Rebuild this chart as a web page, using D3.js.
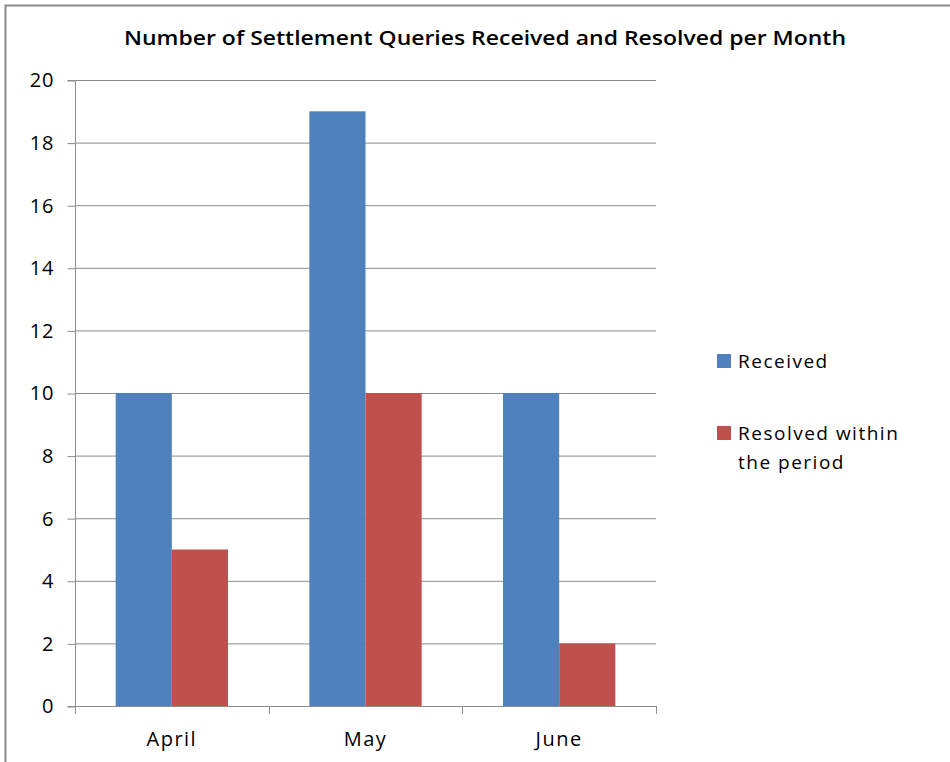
<!DOCTYPE html>
<html>
<head>
<meta charset="utf-8">
<script src="https://cdn.jsdelivr.net/npm/d3@7"></script>
<style>
  body { margin: 0; background: #fff; }
  svg text { font-family: "Open Sans", "DejaVu Sans", sans-serif; fill: #000; }
</style>
</head>
<body>
<div id="chart"></div>
<script>
var months = ["April", "May", "June"];
var received = [10, 19, 10];
var resolved = [5, 10, 2];
var seriesNames = ["Received", "Resolved within the period"];
var yTicks = [0, 2, 4, 6, 8, 10, 12, 14, 16, 18, 20];

var width = 950, height = 762;
var colors = ["#4f81bd", "#c0504d"];

var svg = d3.select("#chart").append("svg")
  .attr("width", width).attr("height", height);

// outer chart border (only top/left visible in the picture)
svg.append("rect")
  .attr("x", 5.5).attr("y", 5.5)
  .attr("width", 960).attr("height", 780)
  .attr("fill", "none").attr("stroke", "#888").attr("stroke-width", 2);

var pLeft = 75, pRight = 656, pTop = 80, pBottom = 706;

var x = d3.scaleBand().domain(months).range([pLeft, pRight]).paddingInner(0).paddingOuter(0);
var y = d3.scaleLinear().domain([0, 20]).range([pBottom, pTop]);

// gridlines
svg.append("g").selectAll("line").data(yTicks.slice(1)).enter().append("line")
  .attr("x1", pLeft).attr("x2", pRight)
  .attr("y1", function(d){ return y(d) + 0.5; })
  .attr("y2", function(d){ return y(d) + 0.5; })
  .attr("stroke", "#8c8c8c").attr("stroke-width", 1);

// bars
var barW = x.bandwidth() * 0.29;
var data = months.map(function(m, i){ return { m: m, vals: [received[i], resolved[i]] }; });
var grp = svg.append("g").selectAll("g").data(data).enter().append("g");
grp.selectAll("rect").data(function(d){ return d.vals.map(function(v, k){ return { m: d.m, v: v, k: k }; }); })
  .enter().append("rect")
  .attr("x", function(d){ return x(d.m) + x.bandwidth() / 2 - barW + d.k * barW; })
  .attr("y", function(d){ return y(d.v); })
  .attr("width", barW)
  .attr("height", function(d){ return y(0) - y(d.v); })
  .attr("fill", function(d){ return colors[d.k]; });

// y axis
var yAxis = svg.append("g").attr("transform", "translate(" + (pLeft + 0.5) + ",0.5)")
  .call(d3.axisLeft(y).tickValues(yTicks).tickSize(8).tickPadding(13));
yAxis.selectAll("text").style("font-size", "20px").attr("letter-spacing", "1px");
yAxis.selectAll("line,path").attr("stroke", "#8c8c8c");
yAxis.select(".domain").attr("d", "M-8," + pTop + "H0V" + pBottom + "H-8");

// x axis
var xAxis = svg.append("g").attr("transform", "translate(0," + (pBottom + 0.5) + ")")
  .call(d3.axisBottom(x).tickSize(0).tickPadding(25));
xAxis.selectAll("text").style("font-size", "20px").attr("letter-spacing", "1.5px");
xAxis.select(".domain").attr("stroke", "#8c8c8c").attr("d", "M" + pLeft + ",0H" + pRight);
svg.append("g").selectAll("line").data([0, 1, 2, 3]).enter().append("line")
  .attr("x1", function(d){ return Math.round(pLeft + d * x.step()) + 0.5; })
  .attr("x2", function(d){ return Math.round(pLeft + d * x.step()) + 0.5; })
  .attr("y1", pBottom).attr("y2", pBottom + 8)
  .attr("stroke", "#8c8c8c");

// title
svg.append("text")
  .attr("x", 485).attr("y", 45)
  .attr("text-anchor", "middle")
  .style("font-size", "19px").style("font-weight", "600")
  .attr("textLength", 722).attr("lengthAdjust", "spacingAndGlyphs")
  .text("Number of Settlement Queries Received and Resolved per Month");

// legend
var legend = svg.append("g");
var legY = [354, 426];
legend.selectAll("rect").data(seriesNames).enter().append("rect")
  .attr("x", 717).attr("y", function(d, i){ return legY[i]; })
  .attr("width", 14).attr("height", 14)
  .attr("fill", function(d, i){ return colors[i]; });
legend.append("text").attr("x", 738).attr("y", 368).style("font-size", "19px")
  .attr("letter-spacing", "1.5px").text("Received");
var t2 = legend.append("text").attr("x", 738).attr("y", 440).style("font-size", "19px")
  .attr("letter-spacing", "1.5px");
t2.append("tspan").attr("x", 738).text("Resolved within");
t2.append("tspan").attr("x", 738).attr("dy", 29).text("the period");
</script>
</body>
</html>
